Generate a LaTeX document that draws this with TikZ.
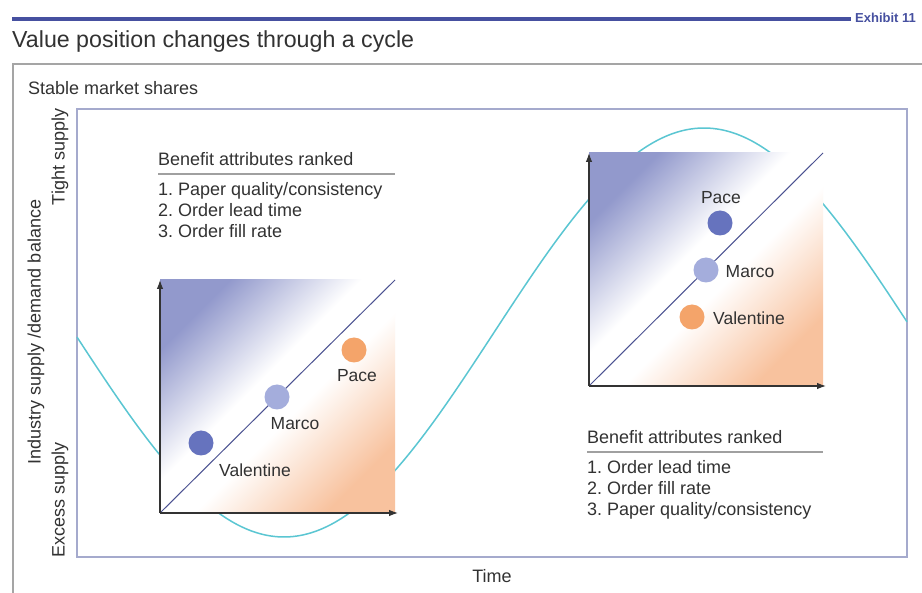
\documentclass[tikz,border=0pt]{standalone}
\usepackage{fontspec}
\setmainfont{Liberation Sans}
\usetikzlibrary{arrows.meta}
\frenchspacing
\definecolor{vblue}{RGB}{146,153,204}
\definecolor{vorange}{RGB}{248,194,158}
\definecolor{txt}{RGB}{50,50,50}
\definecolor{rulecol}{RGB}{70,80,160}
\definecolor{framecol}{RGB}{165,165,165}
\definecolor{boxcol}{RGB}{165,170,205}
\definecolor{wave}{RGB}{90,198,210}
\definecolor{dotdark}{RGB}{102,115,190}
\definecolor{dotlight}{RGB}{164,173,220}
\definecolor{dotorange}{RGB}{244,164,106}
\definecolor{diagcol}{RGB}{75,82,145}
\definecolor{rankline}{RGB}{160,160,160}
\pgfdeclareverticalshading{valshade}{100bp}{color(0bp)=(vorange); color(25bp)=(vorange); color(45bp)=(white); color(55bp)=(white); color(75bp)=(vblue); color(100bp)=(vblue)}
\begin{document}
\begin{tikzpicture}[x=1pt,y=-1pt,
  lbl/.style={font=\fontsize{18}{21}\selectfont, text=txt, inner sep=0pt},
  dotlbl/.style={font=\fontsize{17.5}{21}\selectfont, text=txt, inner sep=0pt},
  titlefont/.style={font=\fontsize{23.2}{27}\selectfont, text=txt, inner sep=0pt},
  ball/.style={circle, minimum size=25pt, inner sep=0pt},
  axisline/.style={draw=black!80, line width=1.1pt, -{Latex[length=9pt,width=6.5pt]}},
  diagline/.style={draw=diagcol, line width=1pt},
  rankrule/.style={draw=rankline, line width=1.3pt},
  squarefill/.style={shading=valshade, shading angle=45}
]
\useasboundingbox (0,0) rectangle (922,593);
\fill[white] (0,0) rectangle (922,593);

% top rule and exhibit tag
\coordinate (rl) at (12,19);
\coordinate (rr) at (851,19);
\draw[rulecol, line width=4pt] (rl) -- (rr);
\node[anchor=base west, inner sep=0pt, text=rulecol, font=\bfseries\fontsize{13}{15}\selectfont] (exh) at (855,23) {Exhibit 11};

% title
\node[titlefont, anchor=base west] (title) at (12,48) {Value position changes through a cycle};

% outer frame
\coordinate (ftl) at (13,64);
\coordinate (ftr) at (922,64);
\coordinate (fbl) at (13,593);
\draw[framecol, line width=1.5pt] (fbl) -- (ftl) -- (ftr);
\node[lbl, anchor=base west] (stable) at (28,95) {Stable market shares};

% inner plot box
\draw[boxcol, line width=1.5pt] (77,109) rectangle (907,557);

% axis labels
\node[lbl, rotate=90] (tight) at (60,157) {Tight supply};
\node[lbl, rotate=90] (balance) at (36,332) {Industry supply /demand balance};
\node[lbl, rotate=90] (excess) at (60,500) {Excess supply};
\node[lbl] (time) at (492,576) {Time};

% cycle curve
\draw[wave, line width=1.5pt] plot[domain=77:907, samples=220, smooth] (\x, {332.5+204.5*cos((\x-284)*0.428571)});

% left chart
\coordinate (lo) at (160,513);
\coordinate (ltr) at (395,280);
\coordinate (lyt) at (160,280);
\coordinate (lxr) at (398,513);
\shade[squarefill] (lo) rectangle (ltr);
\draw[diagline] (lo) -- (ltr);
\draw[axisline] (lo) -- (lyt);
\draw[axisline] (lo) -- (lxr);
\node[ball, fill=dotdark] (lval) at (201,443) {};
\node[ball, fill=dotlight] (lmar) at (277,397) {};
\node[ball, fill=dotorange] (lpac) at (354,350) {};
\node[dotlbl] (lvalt) at (255,470) {Valentine};
\node[dotlbl] (lmart) at (295,424) {Marco};
\node[dotlbl] (lpact) at (357,376) {Pace};

% left ranking
\node[lbl, anchor=base west] (lhead) at (158,166) {Benefit attributes ranked};
\coordinate (lrl) at (158,174);
\coordinate (lrr) at (395,174);
\draw[rankrule] (lrl) -- (lrr);
\node[lbl, anchor=base west] (l1) at (158,196) {1. Paper quality/consistency};
\node[lbl, anchor=base west] (l2) at (158,217) {2. Order lead time};
\node[lbl, anchor=base west] (l3) at (158,238) {3. Order fill rate};

% right chart
\coordinate (ro) at (589,386);
\coordinate (rtr) at (823,153);
\coordinate (ryt) at (589,153);
\coordinate (rxr) at (826,386);
\shade[squarefill] (ro) rectangle (rtr);
\draw[diagline] (ro) -- (rtr);
\draw[axisline] (ro) -- (ryt);
\draw[axisline] (ro) -- (rxr);
\node[ball, fill=dotdark] (rpac) at (720,223) {};
\node[ball, fill=dotlight] (rmar) at (706,270) {};
\node[ball, fill=dotorange] (rval) at (692,317) {};
\node[dotlbl] (rpact) at (721,198) {Pace};
\node[dotlbl] (rmart) at (750,272) {Marco};
\node[dotlbl] (rvalt) at (749,318) {Valentine};

% right ranking
\node[lbl, anchor=base west] (rhead) at (587,444) {Benefit attributes ranked};
\coordinate (rrl) at (587,452);
\coordinate (rrr) at (823,452);
\draw[rankrule] (rrl) -- (rrr);
\node[lbl, anchor=base west] (r1) at (587,474) {1. Order lead time};
\node[lbl, anchor=base west] (r2) at (587,495) {2. Order fill rate};
\node[lbl, anchor=base west] (r3) at (587,516) {3. Paper quality/consistency};
\end{tikzpicture}
\end{document}
